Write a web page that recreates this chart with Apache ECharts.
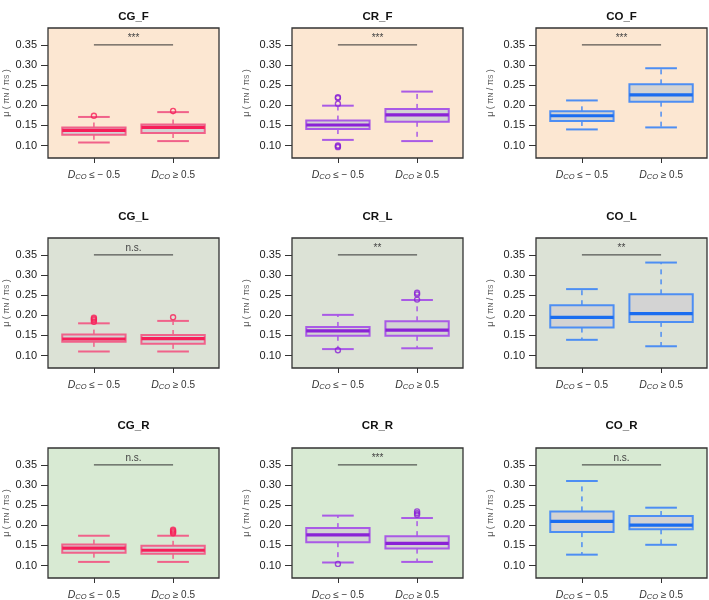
<!DOCTYPE html>
<html>
<head>
<meta charset="utf-8">
<script src="https://cdn.jsdelivr.net/npm/echarts@6/dist/echarts.min.js"></script>
<style>
html,body{margin:0;padding:0;background:#fff;}
#chart{width:709px;height:600px;}
</style>
</head>
<body>
<div id="chart"></div>
<script>
// ---------- data ----------
const panelNames = ['CG_F','CR_F','CO_F','CG_L','CR_L','CO_L','CG_R','CR_R','CO_R'];
const groupRel = ['≤ − 0.5', '≥ 0.5'];
const groupPos = [1, 2];
const yTicks = [0.10, 0.15, 0.20, 0.25, 0.30, 0.35];
const sigLabels = ['***','***','***','n.s.','**','**','n.s.','***','n.s.'];
const sigY = 0.35;

// [lower whisker, Q1, median, Q3, upper whisker] for each group
const CG_F_box = [[0.1075,0.127,0.1375,0.145,0.171],[0.111,0.131,0.145,0.152,0.183]];
const CR_F_box = [[0.114,0.141,0.151,0.162,0.199],[0.111,0.159,0.176,0.191,0.234]];
const CO_F_box = [[0.140,0.161,0.174,0.185,0.212],[0.145,0.209,0.226,0.252,0.292]];
const CG_L_box = [[0.110,0.134,0.141,0.152,0.180],[0.110,0.129,0.142,0.151,0.186]];
const CR_L_box = [[0.116,0.149,0.161,0.171,0.201],[0.118,0.149,0.163,0.185,0.238]];
const CO_L_box = [[0.139,0.1695,0.195,0.225,0.265],[0.123,0.1836,0.204,0.252,0.331]];
const CG_R_box = [[0.109,0.132,0.143,0.152,0.174],[0.109,0.129,0.138,0.149,0.174]];
const CR_R_box = [[0.1075,0.158,0.176,0.193,0.224],[0.109,0.142,0.155,0.173,0.218]];
const CO_R_box = [[0.127,0.183,0.2096,0.2345,0.310],[0.1515,0.190,0.2005,0.223,0.2437]];

// outliers for each group
const CG_F_out = [[0.174],[0.186]];
const CR_F_out = [[0.220,0.218,0.204,0.100,0.098,0.096],[]];
const CO_F_out = [[],[]];
const CG_L_out = [[0.194,0.191,0.188,0.184],[0.195]];
const CR_L_out = [[0.113],[0.256,0.252,0.239]];
const CO_L_out = [[],[]];
const CG_R_out = [[],[0.189,0.186,0.183,0.180]];
const CR_R_out = [[0.104],[0.2345,0.230,0.226]];
const CO_R_out = [[],[]];

const boxes = [CG_F_box,CR_F_box,CO_F_box,CG_L_box,CR_L_box,CO_L_box,CG_R_box,CR_R_box,CO_R_box];
const outs = [CG_F_out,CR_F_out,CO_F_out,CG_L_out,CR_L_out,CO_L_out,CG_R_out,CR_R_out,CO_R_out];

// ---------- styles ----------
const colLeft = [48, 292, 536];
const rowTop = [28, 238, 448];
const titleTop = [11, 211, 420];
const gridW = 171, gridH = 130;
const rowBg = ['#FCE7D2', '#DCE2D6', '#D8EAD3'];
const edgeColor = {CG: '#F0628A', CR: '#A95AE6', CO: '#4D8EF3'};
const medColor  = {CG: '#F71E58', CR: '#8A22D6', CO: '#1A6CF0'};
const FONT = 'Liberation Sans, Arial, sans-serif';

function boxRender(edge, med) {
  return function (params, api) {
    const x = api.value(0);
    const lo = api.coord([x, api.value(1)]);
    const q1 = api.coord([x, api.value(2)]);
    const md = api.coord([x, api.value(3)]);
    const q3 = api.coord([x, api.value(4)]);
    const hi = api.coord([x, api.value(5)]);
    const hw = api.size([0.8, 0])[0] / 2;
    const cx = lo[0];
    const wStyle = {stroke: edge, lineWidth: 1.5, lineDash: [5, 5]};
    const sStyle = {stroke: edge, lineWidth: 2};
    return {
      type: 'group',
      children: [
        {type: 'line', shape: {x1: cx, y1: q3[1], x2: cx, y2: hi[1]}, style: wStyle},
        {type: 'line', shape: {x1: cx, y1: q1[1], x2: cx, y2: lo[1]}, style: wStyle},
        {type: 'line', shape: {x1: cx - hw / 2, y1: hi[1], x2: cx + hw / 2, y2: hi[1]}, style: sStyle},
        {type: 'line', shape: {x1: cx - hw / 2, y1: lo[1], x2: cx + hw / 2, y2: lo[1]}, style: sStyle},
        {type: 'rect', shape: {x: cx - hw, y: q3[1], width: 2 * hw, height: q1[1] - q3[1]},
          style: {fill: '#D3D3D3', stroke: edge, lineWidth: 2}},
        {type: 'line', shape: {x1: cx - hw, y1: md[1], x2: cx + hw, y2: md[1]},
          style: {stroke: med, lineWidth: 3.2}}
      ]
    };
  };
}

function sigRender(params, api) {
  const a = api.coord([api.value(0), api.value(2)]);
  const b = api.coord([api.value(1), api.value(2)]);
  const txt = sigLabels[api.value(3)];
  return {
    type: 'group',
    children: [
      {type: 'line', shape: {x1: a[0], y1: a[1], x2: b[0], y2: b[1]}, style: {stroke: '#333', lineWidth: 1}},
      {type: 'text', style: {x: (a[0] + b[0]) / 2, y: a[1] - 2, text: txt, align: 'center',
        verticalAlign: 'bottom', fill: '#444', fontSize: 10, fontFamily: FONT}}
    ]
  };
}

const grids = [], xAxes = [], yAxes = [], series = [], titles = [];
panelNames.forEach((name, i) => {
  const r = Math.floor(i / 3), c = i % 3;
  const fam = name.slice(0, 2);
  grids.push({
    left: colLeft[c], top: rowTop[r], width: gridW, height: gridH,
    show: true, backgroundColor: rowBg[r], borderColor: '#333', borderWidth: 1.3,
    containLabel: false, outerBoundsMode: 'none'
  });
  titles.push({
    text: name, left: colLeft[c] + gridW / 2, top: titleTop[r], textAlign: 'center', padding: 0,
    textStyle: {fontSize: 11.5, fontWeight: 'bold', color: '#111', fontFamily: FONT}
  });
  xAxes.push({
    gridIndex: i, type: 'value', min: 0.42, max: 2.58,
    axisLine: {show: false},
    splitLine: {show: false},
    axisTick: {show: true, customValues: groupPos, length: 5, lineStyle: {color: '#333'}},
    axisLabel: {
      customValues: groupPos, margin: 12,
      formatter: v => '{it|D}{sub|CO} ' + groupRel[groupPos.indexOf(v)],
      color: '#333', fontSize: 10, fontFamily: FONT,
      rich: {
        it: {fontStyle: 'italic', fontSize: 10.5, color: '#333', fontFamily: FONT},
        sub: {fontStyle: 'italic', fontSize: 7.5, color: '#333', fontFamily: FONT, verticalAlign: 'bottom'}
      }
    }
  });
  yAxes.push({
    gridIndex: i, type: 'value', min: 0.069, max: 0.392,
    axisLine: {show: false},
    splitLine: {show: false},
    axisTick: {show: true, customValues: yTicks, length: 7, lineStyle: {color: '#333'}},
    axisLabel: {customValues: yTicks, margin: 11, formatter: v => v.toFixed(2),
      color: '#1a1a1a', fontSize: 11, fontFamily: FONT},
    name: 'μ ( π{sub|N} / π{sub|S} )',
    nameLocation: 'middle', nameRotate: 90, nameGap: c === 0 ? 37 : 41,
    nameTextStyle: {fontSize: 9, color: '#555', fontFamily: FONT,
      rich: {sub: {fontSize: 6.5, color: '#555', fontFamily: FONT, verticalAlign: 'bottom'}}}
  });
  series.push({
    type: 'custom', xAxisIndex: i, yAxisIndex: i,
    renderItem: boxRender(edgeColor[fam], medColor[fam]),
    encode: {x: 0, y: [1, 2, 3, 4, 5]},
    data: boxes[i].map((b, g) => [groupPos[g]].concat(b)),
    silent: true, z: 3
  });
  const outData = [];
  outs[i].forEach((arr, g) => arr.forEach(v => outData.push([groupPos[g], v])));
  series.push({
    type: 'scatter', xAxisIndex: i, yAxisIndex: i,
    symbol: 'circle', symbolSize: 5,
    itemStyle: {color: 'rgba(0,0,0,0)', borderColor: medColor[fam], borderWidth: 1.4},
    data: outData, silent: true, z: 4
  });
  series.push({
    type: 'custom', xAxisIndex: i, yAxisIndex: i,
    renderItem: sigRender,
    encode: {x: [0, 1], y: 2},
    data: [[groupPos[0], groupPos[1], sigY, i]],
    silent: true, z: 5
  });
});

const chart = echarts.init(document.getElementById('chart'), null, {renderer: 'canvas'});
chart.setOption({
  animation: false,
  backgroundColor: '#fff',
  title: titles,
  grid: grids,
  xAxis: xAxes,
  yAxis: yAxes,
  series: series
});
</script>
</body>
</html>
